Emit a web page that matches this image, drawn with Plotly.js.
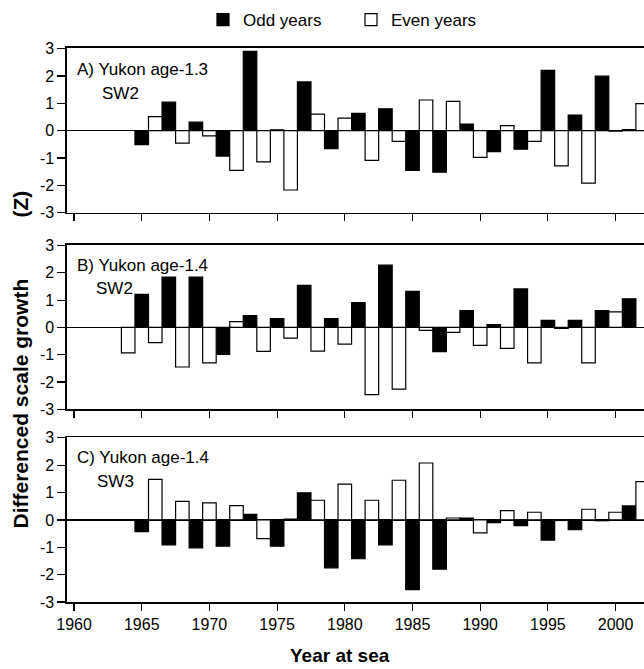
<!DOCTYPE html>
<html>
<head>
<meta charset="utf-8">
<script src="https://cdn.plot.ly/plotly-3.0.1.min.js"></script>
<style>html,body{margin:0;padding:0;background:#fff;}</style>
</head>
<body>
<div id="chart" style="width:644px;height:669px;"></div>
<script>
// ---- data ----
const oddYears  = [1965,1967,1969,1971,1973,1975,1977,1979,1981,1983,1985,1987,1989,1991,1993,1995,1997,1999,2001];
const evenYears = [1964,1966,1968,1970,1972,1974,1976,1978,1980,1982,1984,1986,1988,1990,1992,1994,1996,1998,2000,2002];

const aOdd  = [-0.51,1.04,0.31,-0.93,2.90,0.03,1.78,-0.66,0.63,0.80,-1.45,-1.52,0.24,-0.77,-0.68,2.20,0.57,1.99,0.04];
const aEven = [null,0.51,-0.46,-0.19,-1.45,-1.14,-2.17,0.60,0.46,-1.09,-0.39,1.12,1.07,-0.98,0.18,-0.39,-1.29,-1.92,-0.02,0.99];

const bOdd  = [1.21,1.84,1.84,-0.99,0.43,0.32,1.54,0.32,0.91,2.28,1.32,-0.89,0.62,0.10,1.41,0.26,0.26,0.62,1.05];
const bEven = [-0.93,-0.56,-1.45,-1.30,0.21,-0.88,-0.39,-0.87,-0.61,-2.46,-2.26,-0.11,-0.18,-0.66,-0.77,-1.30,-0.04,-1.30,0.57,null];

const cOdd  = [-0.43,-0.91,-1.02,-0.96,0.20,-0.96,0.99,-1.75,-1.42,-0.91,-2.55,-1.80,0.07,-0.10,-0.21,-0.74,-0.36,-0.03,0.51];
const cEven = [null,1.48,0.68,0.62,0.52,-0.68,0.03,0.72,1.31,0.72,1.45,2.08,0.07,-0.47,0.34,0.28,-0.02,0.39,0.28,1.40];

const panelLabels = ["A) Yukon age-1.3","B) Yukon age-1.4","C) Yukon age-1.4"];
const panelSub    = ["SW2","SW2","SW3"];
const seriesNames = ["Odd years","Even years"];
const yTicks = [-3,-2,-1,0,1,2,3];

// ---- build ----
const FONT = "Liberation Sans, Arial, sans-serif";
const panels = [[aOdd,aEven],[bOdd,bEven],[cOdd,cEven]];
const traces = [];
panels.forEach((p,i)=>{
  const xa = i===0 ? 'x' : 'x'+(i+1);
  const ya = i===0 ? 'y' : 'y'+(i+1);
  traces.push({type:'bar', x:oddYears, y:p[0], width:1, name:seriesNames[0],
    marker:{color:'#000', line:{color:'#000', width:1.2}}, xaxis:xa, yaxis:ya,
    showlegend:i===0, legendgroup:'odd'});
  traces.push({type:'bar', x:evenYears, y:p[1], width:1, name:seriesNames[1],
    marker:{color:'#fff', line:{color:'#000', width:1.2}}, xaxis:xa, yaxis:ya,
    showlegend:i===0, legendgroup:'even'});
});

const W=644, H=669, L=67, R=0, T=48, B=67;
const pw = W-L-R, ph = H-T-B;
const px2x = p => (p-L)/pw;
const py2y = p => (H-B-p)/ph;

const xrange = [1959.48, 2002.1];
const yDomains = [[py2y(212.7),1],[py2y(409.3),py2y(245)],[0,py2y(437.3)]];

function xaxisDef(i){
  return {range:xrange, domain:[0,1], anchor: i===0?'y':'y'+(i+1),
    showline:true, linecolor:'#000', linewidth:1.6, mirror:true,
    ticks:'outside', ticklen:7, tickwidth:1.2, tickcolor:'#000',
    tick0:1960, dtick:5, showgrid:false, zeroline:false,
    showticklabels:i===2, tickfont:{family:FONT,size:16,color:'#000'}};
}
function yaxisDef(i){
  return {range:[-3,3.02], domain:yDomains[i], anchor: i===0?'x':'x'+(i+1),
    showline:true, linecolor:'#000', linewidth:1.6,
    ticks:'outside', ticklen:8, tickwidth:1.2, tickcolor:'#000',
    tickvals:yTicks, ticktext:yTicks.map(String),
    showgrid:false, zeroline:true, zerolinecolor:'#000', zerolinewidth:1.2,
    tickfont:{family:FONT,size:16,color:'#000'}};
}

const labelY = [69.3,265,457.3];
const subX = [100.7,95,96];
const subY = [93.3,288.3,481.7];
const annotations = [];
for(let i=0;i<3;i++){
  annotations.push({xref:'paper',yref:'paper',x:px2x(75),y:py2y(labelY[i]),xanchor:'left',yanchor:'middle',
    text:panelLabels[i],showarrow:false,font:{family:FONT,size:17,color:'#000'}});
  annotations.push({xref:'paper',yref:'paper',x:px2x(subX[i]-1),y:py2y(subY[i]),xanchor:'left',yanchor:'middle',
    text:panelSub[i],showarrow:false,font:{family:FONT,size:17,color:'#000'}});
}
annotations.push({xref:'paper',yref:'paper',x:px2x(20),y:py2y(403.5),xanchor:'center',yanchor:'middle',
  textangle:-90,text:'<b>Differenced scale growth</b>',showarrow:false,font:{family:FONT,size:21,color:'#000'}});
annotations.push({xref:'paper',yref:'paper',x:px2x(20),y:py2y(203.5),xanchor:'center',yanchor:'middle',
  textangle:-90,text:'<b>(Z)</b>',showarrow:false,font:{family:FONT,size:21,color:'#000'}});
annotations.push({xref:'paper',yref:'paper',x:px2x(340),y:py2y(655),xanchor:'center',yanchor:'middle',
  text:'<b>Year at sea</b>',showarrow:false,font:{family:FONT,size:19,color:'#000'}});

const layout = {
  width:W, height:H, margin:{l:L,r:R,t:T,b:B,pad:0},
  paper_bgcolor:'#fff', plot_bgcolor:'#fff',
  barmode:'overlay', bargap:0,
  showlegend:true,
  legend:{orientation:'h', x:px2x(203), xanchor:'left', y:py2y(20), yanchor:'middle',
    font:{family:FONT,size:17,color:'#000'}, entrywidth:103, traceorder:'normal',
    bgcolor:'rgba(0,0,0,0)'},
  xaxis:xaxisDef(0), xaxis2:xaxisDef(1), xaxis3:xaxisDef(2),
  yaxis:yaxisDef(0), yaxis2:yaxisDef(1), yaxis3:yaxisDef(2),
  annotations:annotations
};

Plotly.newPlot('chart', traces, layout, {displayModeBar:false, staticPlot:true});
</script>
</body>
</html>
